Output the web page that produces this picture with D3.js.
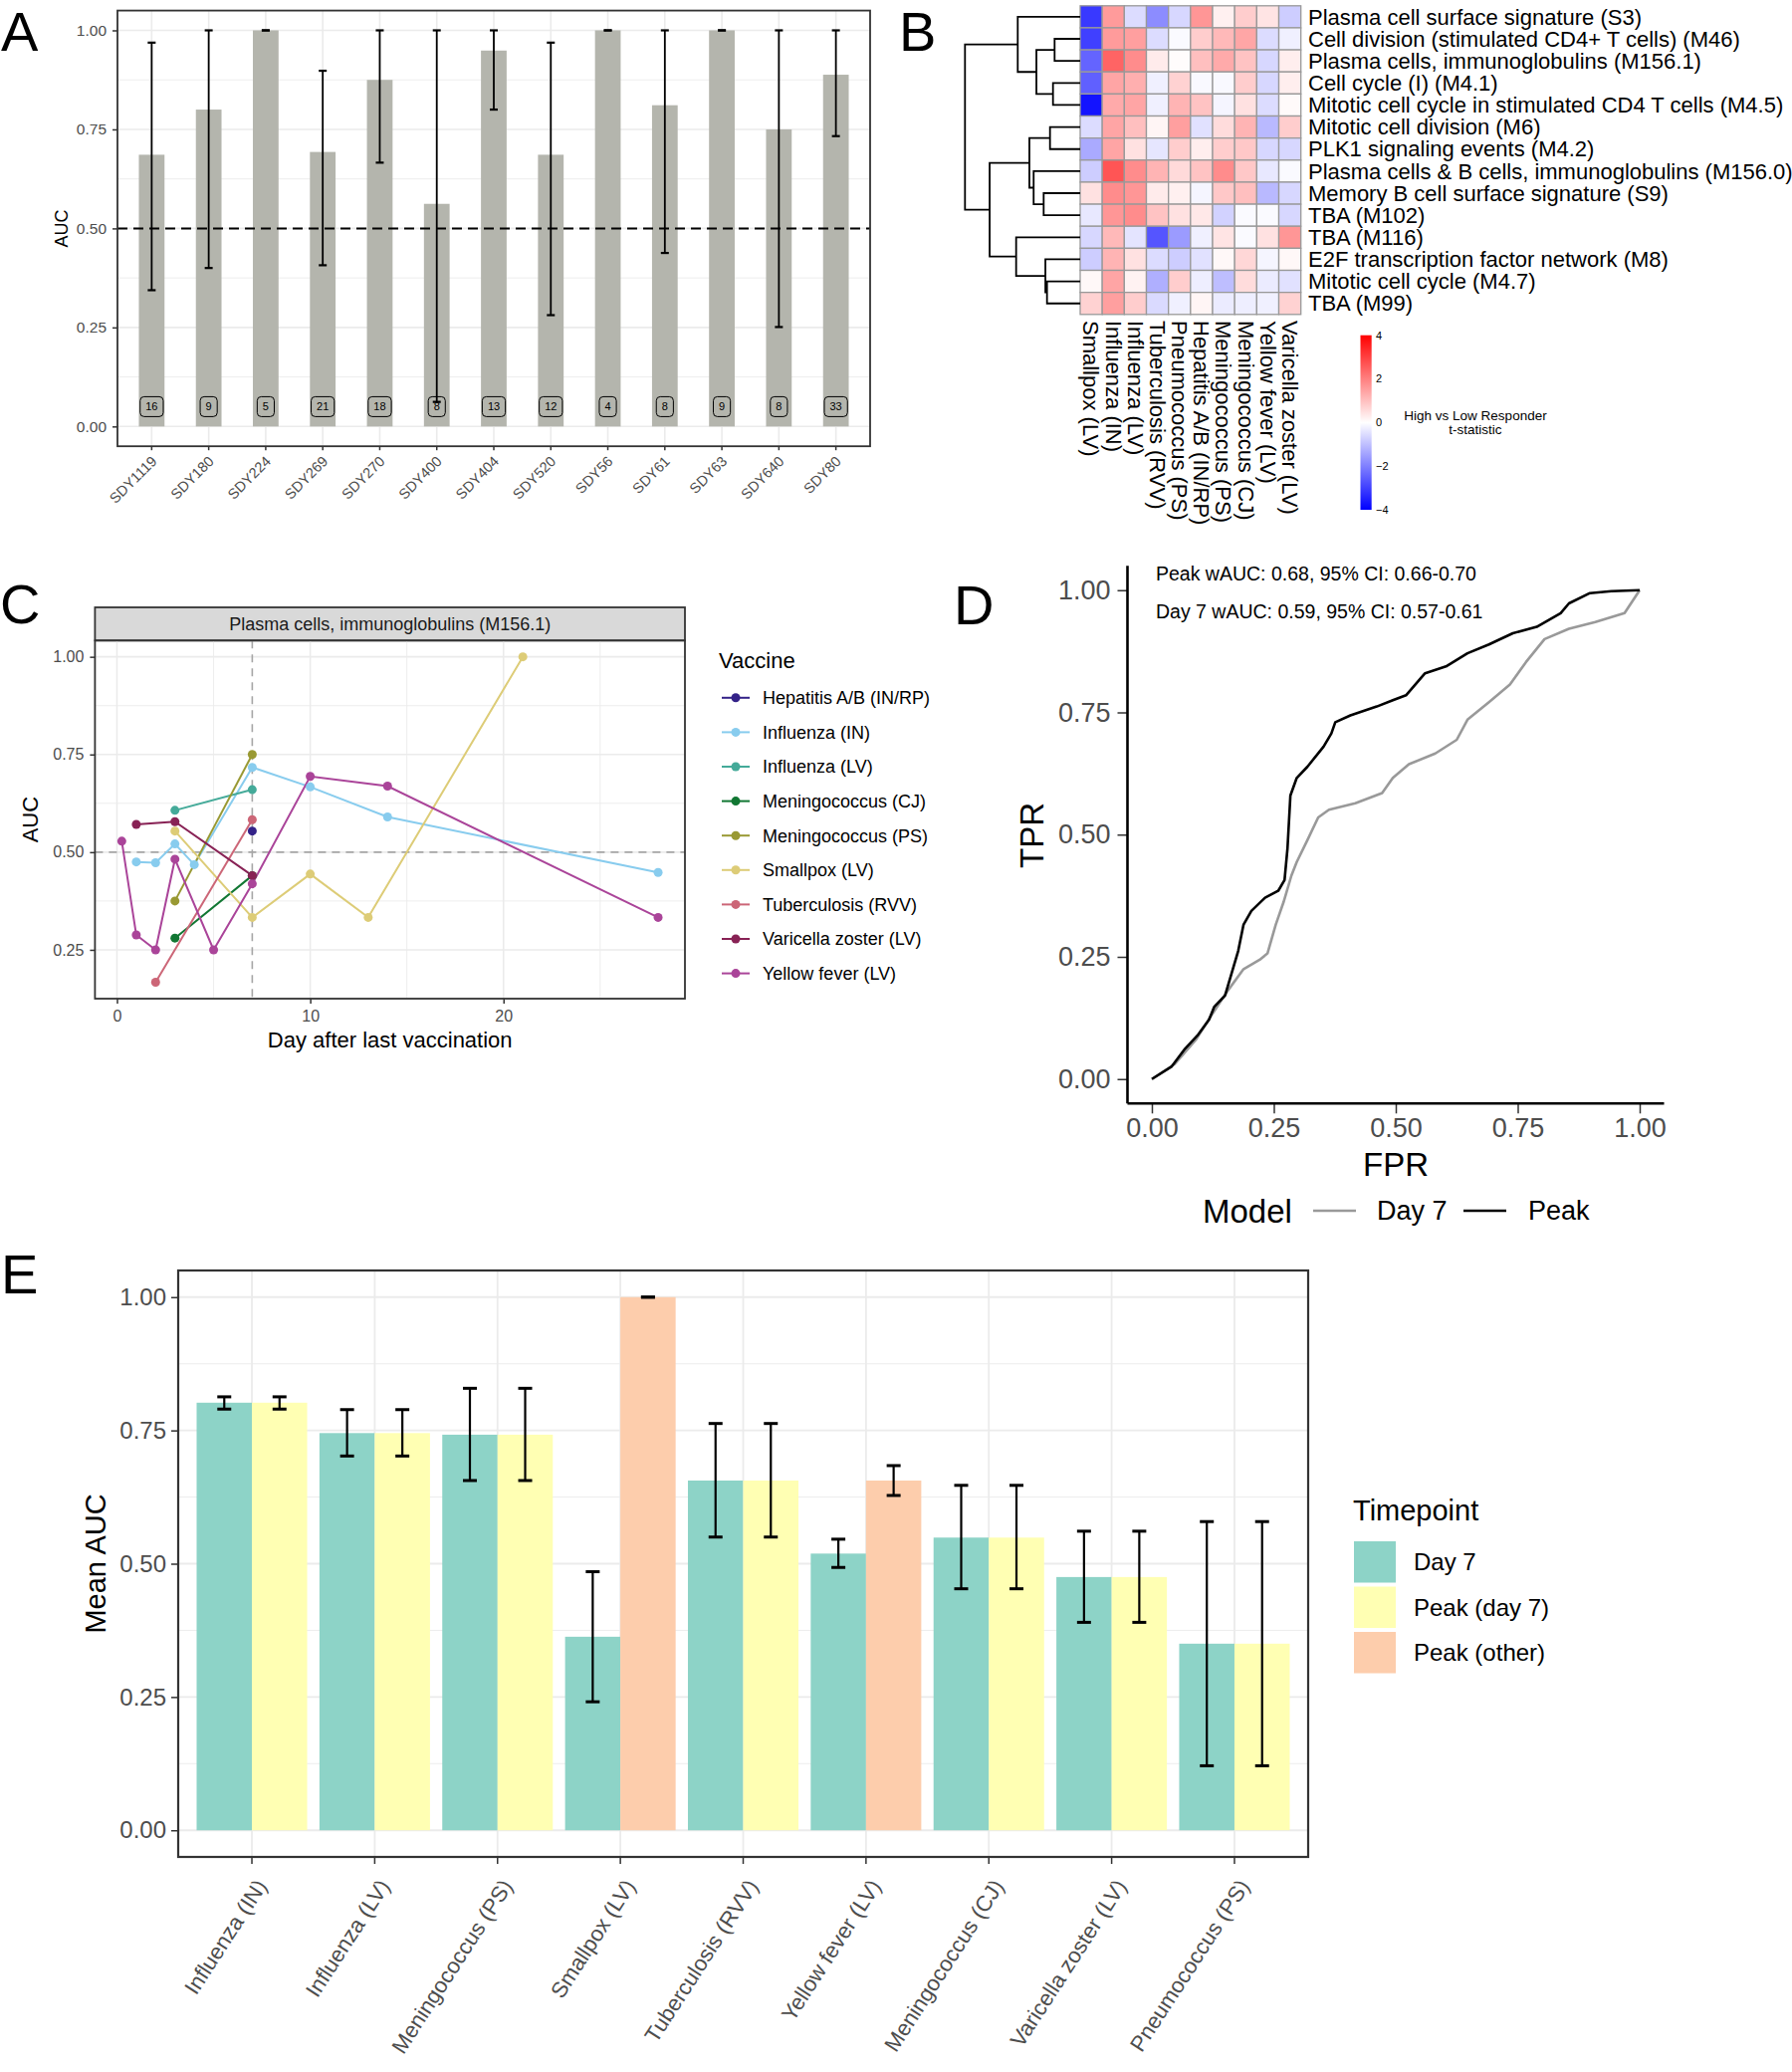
<!DOCTYPE html>
<html>
<head>
<meta charset="utf-8">
<script src="https://cdn.jsdelivr.net/npm/d3@7"></script>
<style>
  body { margin: 0; background: #fff; }
  svg { display: block; font-family: "Liberation Sans", Arial, sans-serif; }
</style>
</head>
<body>
<svg id="fig" width="1800" height="2081"></svg>
<script>
// ---------- Panel A: per-study AUC ----------
const studiesA = ["SDY1119", "SDY180", "SDY224", "SDY269", "SDY270", "SDY400", "SDY404",
  "SDY520", "SDY56", "SDY61", "SDY63", "SDY640", "SDY80"];
const aucA = [0.686, 0.80, 1.0, 0.693, 0.875, 0.562, 0.949, 0.686, 1.0, 0.811, 1.0, 0.75, 0.888];
const loA = [0.344, 0.40, 1.0, 0.407, 0.666, 0.062, 0.80, 0.281, 1.0, 0.438, 1.0, 0.251, 0.733];
const hiA = [0.969, 1.0, 1.0, 0.898, 1.0, 1.0, 1.0, 0.969, 1.0, 1.0, 1.0, 1.0, 1.0];
const nA = [16, 9, 5, 21, 18, 8, 13, 12, 4, 8, 9, 8, 33];

// ---------- Panel B: heatmap ----------
const hmRows = ["Plasma cell surface signature (S3)", "Cell division (stimulated CD4+ T cells) (M46)",
  "Plasma cells, immunoglobulins (M156.1)", "Cell cycle (I) (M4.1)",
  "Mitotic cell cycle in stimulated CD4 T cells (M4.5)", "Mitotic cell division (M6)",
  "PLK1 signaling events (M4.2)", "Plasma cells & B cells, immunoglobulins (M156.0)",
  "Memory B cell surface signature (S9)", "TBA (M102)", "TBA (M116)",
  "E2F transcription factor network (M8)", "Mitotic cell cycle (M4.7)", "TBA (M99)"];
const hmCols = ["Smallpox (LV)", "Influenza (IN)", "Influenza (LV)", "Tuberculosis (RVV)",
  "Pneumococcus (PS)", "Hepatitis A/B (IN/RP)", "Meningococcus (PS)", "Meningococcus (CJ)",
  "Yellow fever (LV)", "Varicella zoster (LV)"];
const hmValues = [
  [-3.1, 1.57, -0.55, -1.8, -0.63, 1.65, 0.24, 0.78, 0.42, -0.78],
  [-3.0, 1.57, 1.5, -0.55, -0.08, 0.78, 1.1, 1.4, -0.55, -0.24],
  [-2.43, 2.43, 1.8, 0.31, 0.05, 1.0, 1.33, 0.94, -0.63, 0.27],
  [-2.5, 1.41, 1.25, -0.24, 0.7, -0.1, -0.1, 0.78, -0.63, 0.27],
  [-3.7, 1.33, 1.41, -0.24, 1.18, 0.94, -0.16, 0.47, -0.55, 0.08],
  [-0.55, 1.41, 1.0, 0.16, 1.5, -0.47, 0.55, 1.18, -1.1, 0.78],
  [-1.33, 1.41, 0.47, -0.4, 0.78, 0.27, 0.78, 0.86, -0.63, -0.63],
  [-0.78, 2.67, 1.8, 1.18, 0.58, 0.94, 1.8, 0.86, -0.36, -0.08],
  [0.47, 1.8, 1.65, 0.31, 0.24, -0.16, 0.86, 1.0, -1.1, -0.63],
  [-0.36, 1.65, 1.8, 0.94, 0.47, 0.36, -0.7, -0.08, -0.08, -0.63],
  [-0.63, 1.1, -0.42, -2.67, -1.57, -0.24, 0.42, -0.08, 0.47, 1.65],
  [-0.78, 1.18, 0.47, -0.55, -0.78, -0.47, 0.11, 0.63, -0.16, 0.11],
  [0.11, 1.41, 0.2, -1.25, 0.78, -0.27, -1.02, 0.55, -0.31, -0.47],
  [0.7, 1.5, 0.78, -0.58, -0.24, 0.16, -0.31, -0.27, -0.24, 0.7]
];
// row dendrogram, hclust style: negative = leaf (row number), positive = earlier merge
const dendroMerge = [
  [-2, -3, 0.222], [-4, -5, 0.236], [1, 2, 0.380], [-1, 3, 0.542],
  [-6, -7, 0.262], [-9, -10, 0.317], [-8, 6, 0.404], [5, 7, 0.441],
  [-13, -14, 0.288], [-12, 9, 0.302], [-11, 10, 0.556], [8, 11, 0.786], [4, 12, 1.0]
];
const legendTicksB = [4, 2, 0, -2, -4];

// ---------- Panel C: AUC over time ----------
const vaccinesC = ["Hepatitis A/B (IN/RP)", "Influenza (IN)", "Influenza (LV)", "Meningococcus (CJ)",
  "Meningococcus (PS)", "Smallpox (LV)", "Tuberculosis (RVV)", "Varicella zoster (LV)", "Yellow fever (LV)"];
const colorsC = ["#332288", "#88CCEE", "#44AA99", "#117733", "#999933", "#DDCC77", "#CC6677", "#882255", "#AA4499"];
const daysC = [[7], [1, 2, 3, 4, 7, 10, 14, 28], [3, 7], [3, 7], [3, 7], [3, 7, 10, 13, 21], [2, 7],
  [1, 3, 7], [0.25, 1, 2, 3, 5, 7, 10, 14, 28]];
const aucC = [[0.554], [0.475, 0.473, 0.521, 0.468, 0.717, 0.667, 0.590, 0.448], [0.607, 0.660],
  [0.280, 0.440], [0.375, 0.750], [0.554, 0.333, 0.444, 0.333, 1.0], [0.167, 0.583],
  [0.571, 0.578, 0.440], [0.528, 0.288, 0.250, 0.482, 0.250, 0.419, 0.694, 0.669, 0.333]];

// ---------- Panel D: ROC ----------
const fprPeak = [0, 0.04, 0.068, 0.095, 0.117, 0.128, 0.15, 0.166, 0.177, 0.188, 0.204, 0.232, 0.259,
  0.272, 0.278, 0.284, 0.297, 0.319, 0.352, 0.368, 0.376, 0.407, 0.461, 0.494, 0.521, 0.56, 0.603,
  0.647, 0.691, 0.74, 0.789, 0.838, 0.855, 0.898, 0.942, 1.0];
const tprPeak = [0, 0.025, 0.062, 0.091, 0.121, 0.148, 0.171, 0.225, 0.262, 0.316, 0.344, 0.371, 0.385,
  0.407, 0.471, 0.58, 0.616, 0.639, 0.68, 0.707, 0.73, 0.744, 0.762, 0.775, 0.785, 0.83, 0.844,
  0.871, 0.889, 0.912, 0.925, 0.953, 0.973, 0.994, 0.998, 1.0];
const fprDay7 = [0, 0.046, 0.09, 0.122, 0.155, 0.188, 0.221, 0.237, 0.254, 0.27, 0.286, 0.297, 0.319,
  0.341, 0.363, 0.417, 0.472, 0.494, 0.527, 0.581, 0.625, 0.647, 0.691, 0.734, 0.767, 0.805, 0.855,
  0.909, 0.969, 1.0];
const tprDay7 = [0, 0.03, 0.08, 0.13, 0.18, 0.225, 0.244, 0.257, 0.316, 0.362, 0.416, 0.444, 0.489,
  0.535, 0.551, 0.564, 0.585, 0.616, 0.644, 0.666, 0.694, 0.735, 0.771, 0.807, 0.853, 0.9, 0.921,
  0.935, 0.953, 1.0];
const rocNotes = ["Peak wAUC: 0.68, 95% CI: 0.66-0.70", "Day 7 wAUC: 0.59, 95% CI: 0.57-0.61"];

// ---------- Panel E: mean AUC by vaccine ----------
const vaccinesE = ["Influenza (IN)", "Influenza (LV)", "Meningococcus (PS)", "Smallpox (LV)",
  "Tuberculosis (RVV)", "Yellow fever (LV)", "Meningococcus (CJ)", "Varicella zoster (LV)", "Pneumococcus (PS)"];
const day7Mean = [0.802, 0.745, 0.742, 0.363, 0.656, 0.519, 0.549, 0.475, 0.350];
const day7Lo = [0.790, 0.702, 0.656, 0.241, 0.550, 0.493, 0.453, 0.390, 0.121];
const day7Hi = [0.813, 0.789, 0.829, 0.485, 0.763, 0.546, 0.647, 0.561, 0.579];
const peakMean = [0.802, 0.745, 0.742, 1.0, 0.656, 0.656, 0.549, 0.475, 0.350];
const peakLo = [0.790, 0.702, 0.656, 1.0, 0.550, 0.628, 0.453, 0.390, 0.121];
const peakHi = [0.813, 0.789, 0.829, 1.0, 0.763, 0.684, 0.647, 0.561, 0.579];
const peakIsDay7 = [true, true, true, false, true, false, true, true, true];
const timepoints = ["Day 7", "Peak (day 7)", "Peak (other)"];
const timepointColors = ["#8DD3C7", "#FFFFB3", "#FDCDAC"];

const svg = d3.select("#fig");
const grid = "#ebebeb", tickGray = "#4d4d4d", frame = "#333333";

function gridLines(g, scale, vals, x1, x2, w) {
  g.selectAll(null).data(vals).enter().append("line")
    .attr("x1", x1).attr("x2", x2)
    .attr("y1", d => scale(d)).attr("y2", d => scale(d))
    .attr("stroke", grid).attr("stroke-width", w);
}
function vGridLines(g, xs, y1, y2, w) {
  g.selectAll(null).data(xs).enter().append("line")
    .attr("x1", d => d).attr("x2", d => d).attr("y1", y1).attr("y2", y2)
    .attr("stroke", grid).attr("stroke-width", w);
}
function styleAxis(g, size, color) {
  g.select(".domain").remove();
  g.selectAll(".tick line").attr("stroke", frame).attr("stroke-width", 1.5);
  g.selectAll(".tick text").attr("fill", color).style("font-size", size + "px")
    .style("font-family", '"Liberation Sans", Arial, sans-serif');
}

// panel letters
[["A", 1, 51], ["B", 903, 51], ["C", 0, 626], ["D", 958, 627], ["E", 1, 1299]].forEach(([t, x, y]) => {
  svg.append("text").attr("x", x).attr("y", y).style("font-size", "56px").text(t);
});

// ================= Panel A =================
{
  const P = { left: 118, right: 874, top: 10.6, bottom: 448.2 };
  const x = d3.scaleBand().domain(studiesA).range([P.left, P.right]).paddingInner(0).paddingOuter(0.1);
  const y = d3.scaleLinear().domain([-0.05, 1.05]).range([P.bottom, P.top]);
  const g = svg.append("g");
  const cx = d => x(d) + x.bandwidth() / 2;

  gridLines(g, y, [0.125, 0.375, 0.625, 0.875], P.left, P.right, 0.9);
  gridLines(g, y, [0, 0.25, 0.5, 0.75, 1], P.left, P.right, 1.6);
  vGridLines(g, studiesA.map(cx), P.top, P.bottom, 1.6);

  const bw = x.step() * 0.45;
  g.selectAll(null).data(studiesA).enter().append("rect")
    .attr("x", d => cx(d) - bw / 2).attr("width", bw)
    .attr("y", (d, i) => y(aucA[i])).attr("height", (d, i) => y(0) - y(aucA[i]))
    .attr("fill", "#b4b5ad");

  // count labels
  studiesA.forEach((s, i) => {
    const t = g.append("text").attr("x", cx(s)).attr("y", y(0.05)).attr("dy", "0.35em")
      .attr("text-anchor", "middle").style("font-size", "11px").text(nA[i]);
    const w = t.node().getComputedTextLength() + 11;
    g.insert("rect", () => t.node())
      .attr("x", cx(s) - w / 2).attr("y", y(0.05) - 10).attr("width", w).attr("height", 20)
      .attr("rx", 4).attr("fill", "#b4b5ad").attr("stroke", "#000").attr("stroke-width", 1);
  });

  // reference line
  g.append("line").attr("x1", P.left).attr("x2", P.right).attr("y1", y(0.5)).attr("y2", y(0.5))
    .attr("stroke", "#000").attr("stroke-width", 2).attr("stroke-dasharray", "10,6");

  // error bars
  studiesA.forEach((s, i) => {
    const c = cx(s);
    g.append("line").attr("x1", c).attr("x2", c).attr("y1", y(loA[i])).attr("y2", y(hiA[i]))
      .attr("stroke", "#000").attr("stroke-width", 1.8);
    [loA[i], hiA[i]].forEach(v => g.append("line").attr("x1", c - 4).attr("x2", c + 4)
      .attr("y1", y(v)).attr("y2", y(v)).attr("stroke", "#000").attr("stroke-width", 2.2));
  });

  g.append("rect").attr("x", P.left).attr("y", P.top).attr("width", P.right - P.left)
    .attr("height", P.bottom - P.top).attr("fill", "none").attr("stroke", frame).attr("stroke-width", 1.8);

  const ya = g.append("g").attr("transform", `translate(${P.left},0)`)
    .call(d3.axisLeft(y).tickValues([0, 0.25, 0.5, 0.75, 1]).tickFormat(d3.format(".2f")).tickSize(5).tickPadding(6));
  styleAxis(ya, 15.5, tickGray);
  const xa = g.append("g").attr("transform", `translate(0,${P.bottom})`)
    .call(d3.axisBottom(x).tickSize(4));
  styleAxis(xa, 14.5, tickGray);
  xa.selectAll(".tick text").attr("y", 0).attr("dy", null).attr("text-anchor", "end")
    .attr("transform", "translate(6,16) rotate(-45)");

  g.append("text").attr("transform", `translate(68,${(P.top + P.bottom) / 2}) rotate(-90)`)
    .attr("text-anchor", "middle").style("font-size", "18px").text("AUC");
}

// ================= Panel B =================
{
  const x = d3.scaleBand().domain(d3.range(hmCols.length)).range([1085, 1306.7]);
  const y = d3.scaleBand().domain(d3.range(hmRows.length)).range([5.8, 315.8]);
  const color = d3.scaleLinear().domain([-4, 0, 4]).range(["#0000ff", "#ffffff", "#ff0000"]);
  const g = svg.append("g");

  hmValues.forEach((row, r) => {
    g.selectAll(null).data(row).enter().append("rect")
      .attr("x", (d, c) => x(c)).attr("y", y(r))
      .attr("width", x.bandwidth()).attr("height", y.bandwidth())
      .attr("fill", d => color(d)).attr("stroke", "#999999").attr("stroke-width", 1.3);
  });

  g.selectAll(null).data(hmRows).enter().append("text")
    .attr("x", 1314).attr("y", (d, i) => y(i) + y.bandwidth() / 2).attr("dy", "0.35em")
    .style("font-size", "22px").text(d => d);

  g.selectAll(null).data(hmCols).enter().append("text")
    .attr("transform", (d, i) => `translate(${x(i) + x.bandwidth() / 2},322) rotate(90)`)
    .attr("dy", "0.35em").style("font-size", "22px").text(d => d);

  // dendrogram
  const dx = d3.scaleLinear().domain([0, 1]).range([1085, 969.3]);
  const nodes = [];
  const pos = id => id < 0 ? { y: y(-id - 1) + y.bandwidth() / 2, h: 0 } : nodes[id - 1];
  const path = d3.path();
  dendroMerge.forEach(([a, b, h]) => {
    const pa = pos(a), pb = pos(b);
    path.moveTo(dx(pa.h), pa.y); path.lineTo(dx(h), pa.y);
    path.lineTo(dx(h), pb.y); path.lineTo(dx(pb.h), pb.y);
    nodes.push({ y: (pa.y + pb.y) / 2, h });
  });
  g.append("path").attr("d", path.toString()).attr("fill", "none")
    .attr("stroke", "#000").attr("stroke-width", 1.8);

  // colour key
  const defs = svg.append("defs");
  const grad = defs.append("linearGradient").attr("id", "hmGrad")
    .attr("x1", 0).attr("x2", 0).attr("y1", 0).attr("y2", 1);
  [[0, "#ff0000"], [0.5, "#ffffff"], [1, "#0000ff"]].forEach(([o, c]) =>
    grad.append("stop").attr("offset", o).attr("stop-color", c));
  const ly = d3.scaleLinear().domain([4, -4]).range([336.7, 512]);
  g.append("rect").attr("x", 1366.5).attr("y", ly(4)).attr("width", 11.2)
    .attr("height", ly(-4) - ly(4)).attr("fill", "url(#hmGrad)");
  g.selectAll(null).data(legendTicksB).enter().append("text")
    .attr("x", 1382).attr("y", d => ly(d)).attr("dy", "0.35em").style("font-size", "11px")
    .text(d => d < 0 ? "\u2212" + Math.abs(d) : d);
  g.append("text").attr("x", 1482).attr("y", 417).attr("dy", "0.35em").attr("text-anchor", "middle")
    .style("font-size", "13.5px").text("High vs Low Responder");
  g.append("text").attr("x", 1482).attr("y", 431.5).attr("dy", "0.35em").attr("text-anchor", "middle")
    .style("font-size", "13.5px").text("t-statistic");
}

// ================= Panel C =================
{
  const P = { left: 95.4, right: 688, top: 643.3, bottom: 1003 };
  const x = d3.scaleLinear().domain([-1.1375, 29.3875]).range([P.left, P.right]);
  const y = d3.scaleLinear().domain([0.125, 1.0417]).range([P.bottom, P.top]);
  const g = svg.append("g");

  // strip
  g.append("rect").attr("x", P.left).attr("y", 610).attr("width", P.right - P.left).attr("height", P.top - 610)
    .attr("fill", "#d9d9d9").attr("stroke", frame).attr("stroke-width", 1.8);
  g.append("text").attr("x", (P.left + P.right) / 2).attr("y", (610 + P.top) / 2).attr("dy", "0.35em")
    .attr("text-anchor", "middle").attr("fill", "#1a1a1a").style("font-size", "18px")
    .text("Plasma cells, immunoglobulins (M156.1)");

  gridLines(g, y, [0.375, 0.625, 0.875], P.left, P.right, 0.9);
  vGridLines(g, [5, 15, 25].map(x), P.top, P.bottom, 0.9);
  gridLines(g, y, [0.25, 0.5, 0.75, 1], P.left, P.right, 1.6);
  vGridLines(g, [0, 10, 20].map(x), P.top, P.bottom, 1.6);

  g.append("line").attr("x1", x(7)).attr("x2", x(7)).attr("y1", P.top).attr("y2", P.bottom)
    .attr("stroke", "#a6a6a6").attr("stroke-width", 1.6).attr("stroke-dasharray", "8,6");
  g.append("line").attr("x1", P.left).attr("x2", P.right).attr("y1", y(0.5)).attr("y2", y(0.5))
    .attr("stroke", "#a6a6a6").attr("stroke-width", 1.8).attr("stroke-dasharray", "8,6");

  const line = d3.line().x(d => x(d[0])).y(d => y(d[1]));
  vaccinesC.forEach((v, i) => {
    const pts = daysC[i].map((d, j) => [d, aucC[i][j]]);
    g.append("path").attr("d", line(pts)).attr("fill", "none")
      .attr("stroke", colorsC[i]).attr("stroke-width", 2);
  });
  vaccinesC.forEach((v, i) => {
    g.selectAll(null).data(daysC[i]).enter().append("circle")
      .attr("cx", d => x(d)).attr("cy", (d, j) => y(aucC[i][j])).attr("r", 4.5)
      .attr("fill", colorsC[i]);
  });

  g.append("rect").attr("x", P.left).attr("y", P.top).attr("width", P.right - P.left)
    .attr("height", P.bottom - P.top).attr("fill", "none").attr("stroke", frame).attr("stroke-width", 1.8);

  const ya = g.append("g").attr("transform", `translate(${P.left},0)`)
    .call(d3.axisLeft(y).tickValues([0.25, 0.5, 0.75, 1]).tickFormat(d3.format(".2f")).tickSize(5).tickPadding(6));
  styleAxis(ya, 16, tickGray);
  const xa = g.append("g").attr("transform", `translate(0,${P.bottom})`)
    .call(d3.axisBottom(x).tickValues([0, 10, 20]).tickFormat(d3.format("d")).tickSize(5).tickPadding(7));
  styleAxis(xa, 16, tickGray);

  g.append("text").attr("x", (P.left + P.right) / 2).attr("y", 1044).attr("dy", "0.35em")
    .attr("text-anchor", "middle").style("font-size", "22px").text("Day after last vaccination");
  g.append("text").attr("transform", `translate(30,${(P.top + P.bottom) / 2}) rotate(-90)`)
    .attr("dy", "0.35em").attr("text-anchor", "middle").style("font-size", "22px").text("AUC");

  // legend
  g.append("text").attr("x", 722).attr("y", 663).attr("dy", "0.35em").style("font-size", "22px").text("Vaccine");
  const ky = d3.scaleLinear().domain([0, 8]).range([700.8, 977.6]);
  vaccinesC.forEach((v, i) => {
    g.append("line").attr("x1", 725).attr("x2", 753).attr("y1", ky(i)).attr("y2", ky(i))
      .attr("stroke", colorsC[i]).attr("stroke-width", 2);
    g.append("circle").attr("cx", 739).attr("cy", ky(i)).attr("r", 4.5).attr("fill", colorsC[i]);
    g.append("text").attr("x", 766).attr("y", ky(i)).attr("dy", "0.35em").style("font-size", "18px").text(v);
  });
}

// ================= Panel D =================
{
  const x = d3.scaleLinear().domain([-0.05, 1.05]).range([1132.5, 1671.5]);
  const y = d3.scaleLinear().domain([-0.05, 1.05]).range([1108.3, 568.2]);
  const g = svg.append("g");
  const line = d3.line().x(d => x(d[0])).y(d => y(d[1]));

  g.append("path").attr("d", line(fprDay7.map((f, i) => [f, tprDay7[i]])))
    .attr("fill", "none").attr("stroke", "#999999").attr("stroke-width", 2.6).attr("stroke-linejoin", "round");
  g.append("path").attr("d", line(fprPeak.map((f, i) => [f, tprPeak[i]])))
    .attr("fill", "none").attr("stroke", "#000").attr("stroke-width", 2.6).attr("stroke-linejoin", "round");

  const ticks = [0, 0.25, 0.5, 0.75, 1];
  const ya = g.append("g").attr("transform", `translate(${x(-0.05)},0)`)
    .call(d3.axisLeft(y).tickValues(ticks).tickFormat(d3.format(".2f")).tickSize(10).tickPadding(7));
  styleAxis(ya, 27, tickGray);
  const xa = g.append("g").attr("transform", `translate(0,${y(-0.05)})`)
    .call(d3.axisBottom(x).tickValues(ticks).tickFormat(d3.format(".2f")).tickSize(10).tickPadding(5));
  styleAxis(xa, 27, tickGray);
  g.append("line").attr("x1", x(-0.05)).attr("x2", x(-0.05)).attr("y1", y(1.05)).attr("y2", y(-0.05))
    .attr("stroke", "#000").attr("stroke-width", 2.6);
  g.append("line").attr("x1", x(-0.05)).attr("x2", x(1.05)).attr("y1", y(-0.05)).attr("y2", y(-0.05))
    .attr("stroke", "#000").attr("stroke-width", 2.6);

  rocNotes.forEach((t, i) => g.append("text").attr("x", 1161).attr("y", [575.7, 613.7][i])
    .attr("dy", "0.35em").style("font-size", "19.5px").text(t));

  g.append("text").attr("transform", "translate(1036,839) rotate(-90)").attr("dy", "0.35em")
    .attr("text-anchor", "middle").style("font-size", "33px").text("TPR");
  g.append("text").attr("x", 1402).attr("y", 1169.5).attr("dy", "0.35em")
    .attr("text-anchor", "middle").style("font-size", "33px").text("FPR");

  // legend
  g.append("text").attr("x", 1208).attr("y", 1216).attr("dy", "0.35em").style("font-size", "33px").text("Model");
  [["Day 7", "#999999", 1319, 1383], ["Peak", "#000", 1470, 1535]].forEach(([t, c, lx, tx]) => {
    g.append("line").attr("x1", lx).attr("x2", lx + 43).attr("y1", 1216).attr("y2", 1216)
      .attr("stroke", c).attr("stroke-width", 2.6);
    g.append("text").attr("x", tx).attr("y", 1216).attr("dy", "0.35em").style("font-size", "27px").text(t);
  });
}

// ================= Panel E =================
{
  const P = { left: 179, right: 1314, top: 1276, bottom: 1865 };
  const x = d3.scaleBand().domain(vaccinesE).range([P.left, P.right]).paddingInner(0).paddingOuter(0.1);
  const y = d3.scaleLinear().domain([-0.05, 1.05]).range([P.bottom, P.top]);
  const g = svg.append("g");
  const cx = d => x(d) + x.bandwidth() / 2;
  const bw = x.step() * 0.45;

  gridLines(g, y, [0.125, 0.375, 0.625, 0.875], P.left, P.right, 0.9);
  gridLines(g, y, [0, 0.25, 0.5, 0.75, 1], P.left, P.right, 1.8);
  vGridLines(g, vaccinesE.map(cx), P.top, P.bottom, 1.8);

  g.selectAll(null).data(vaccinesE).enter().append("rect")
    .attr("x", d => cx(d) - bw).attr("width", bw)
    .attr("y", (d, i) => y(day7Mean[i])).attr("height", (d, i) => y(0) - y(day7Mean[i]))
    .attr("fill", timepointColors[0]);
  g.selectAll(null).data(vaccinesE).enter().append("rect")
    .attr("x", d => cx(d)).attr("width", bw)
    .attr("y", (d, i) => y(peakMean[i])).attr("height", (d, i) => y(0) - y(peakMean[i]))
    .attr("fill", (d, i) => peakIsDay7[i] ? timepointColors[1] : timepointColors[2]);

  const errBar = (c, lo, hi) => {
    g.append("line").attr("x1", c).attr("x2", c).attr("y1", y(lo)).attr("y2", y(hi))
      .attr("stroke", "#000").attr("stroke-width", 2.2);
    [lo, hi].forEach(v => g.append("line").attr("x1", c - 7).attr("x2", c + 7)
      .attr("y1", y(v)).attr("y2", y(v)).attr("stroke", "#000").attr("stroke-width", 3));
  };
  vaccinesE.forEach((v, i) => {
    errBar(cx(v) - bw / 2, day7Lo[i], day7Hi[i]);
    errBar(cx(v) + bw / 2, peakLo[i], peakHi[i]);
  });

  g.append("rect").attr("x", P.left).attr("y", P.top).attr("width", P.right - P.left)
    .attr("height", P.bottom - P.top).attr("fill", "none").attr("stroke", frame).attr("stroke-width", 2.2);

  const ya = g.append("g").attr("transform", `translate(${P.left},0)`)
    .call(d3.axisLeft(y).tickValues([0, 0.25, 0.5, 0.75, 1]).tickFormat(d3.format(".2f")).tickSize(7).tickPadding(5));
  styleAxis(ya, 24, tickGray);
  const xa = g.append("g").attr("transform", `translate(0,${P.bottom})`)
    .call(d3.axisBottom(x).tickSize(7));
  styleAxis(xa, 22, tickGray);
  xa.selectAll(".tick text").attr("y", 0).attr("dy", null).attr("text-anchor", "end")
    .attr("transform", "translate(16,29) rotate(-57)");

  g.append("text").attr("transform", `translate(96,${(P.top + P.bottom) / 2}) rotate(-90)`)
    .attr("dy", "0.35em").attr("text-anchor", "middle").style("font-size", "29px").text("Mean AUC");

  // legend
  g.append("text").attr("x", 1359).attr("y", 1527).style("font-size", "29px").text("Timepoint");
  timepoints.forEach((t, i) => {
    const ty = 1548 + i * 45.5;
    g.append("rect").attr("x", 1360).attr("y", ty).attr("width", 42).attr("height", 41.5)
      .attr("fill", timepointColors[i]);
    g.append("text").attr("x", 1420).attr("y", ty + 21).attr("dy", "0.35em").style("font-size", "24px").text(t);
  });
}
</script>
</body>
</html>
